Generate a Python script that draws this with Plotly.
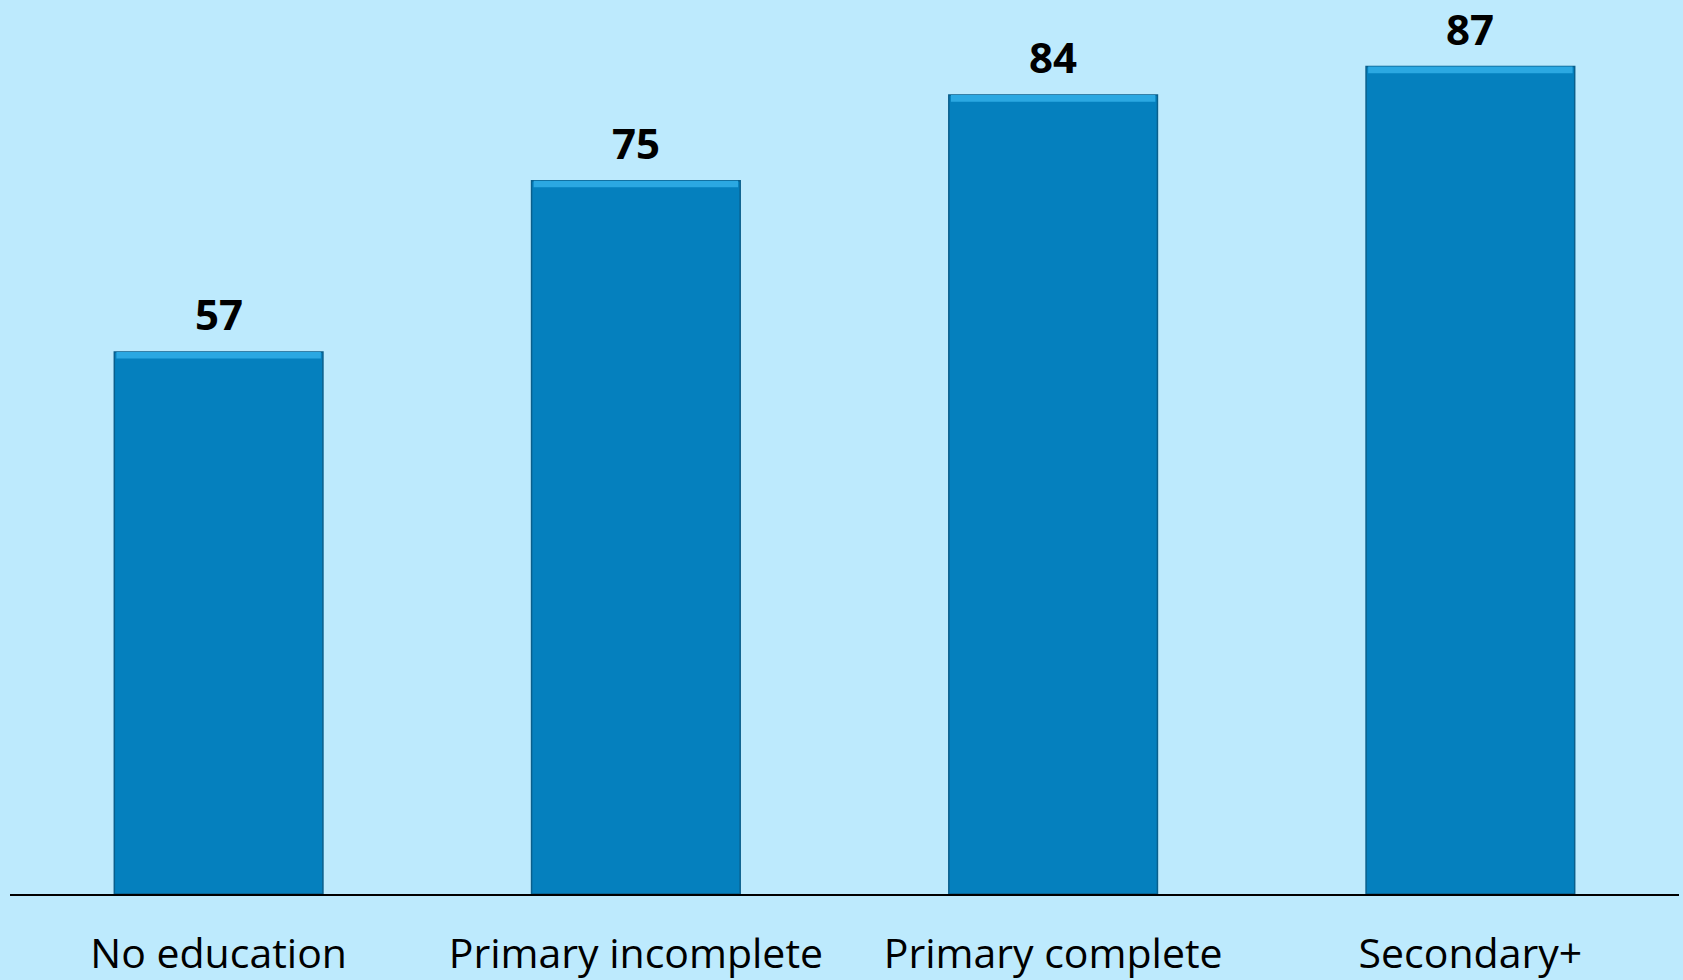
import plotly.graph_objects as go

categories = ["No education", "Primary incomplete", "Primary complete", "Secondary+"]
values = [57, 75, 84, 87]
value_labels = ["57", "75", "84", "87"]

bg = "#BDEAFD"
bar_color = "#0580BE"
bevel = 0.7

fig = go.Figure()
fig.add_trace(go.Bar(
    x=categories, y=values, width=0.5,
    marker=dict(color=bar_color, line=dict(color="#0A5F8C", width=1.5)),
    hoverinfo="skip",
))
fig.add_trace(go.Bar(
    x=categories, y=[bevel] * len(values), base=[v - bevel for v in values], width=0.49,
    marker=dict(color="#2BA8E2", line=dict(width=0)),
    hoverinfo="skip",
))

for c, v, t in zip(categories, values, value_labels):
    fig.add_annotation(x=c, y=v, text="<b>%s</b>" % t, showarrow=False,
                       yanchor="bottom", yshift=9, borderpad=0,
                       font=dict(family="Open Sans", size=42, color="black"))

fig.update_layout(
    width=1683, height=980,
    margin=dict(l=10, r=4, t=0, b=84),
    paper_bgcolor=bg, plot_bgcolor=bg,
    showlegend=False,
    barmode="overlay",
    xaxis=dict(showline=True, linecolor="black", linewidth=2, ticks="",
               tickfont=dict(family="Open Sans", size=41, color="black"),
               ticklabelstandoff=23, range=[-0.5, 3.5]),
    yaxis=dict(visible=False, range=[0, 94], showgrid=False, zeroline=False),
)

fig.write_html("out.html", config={"displayModeBar": False},
               post_script="document.body.style.margin='0';document.body.style.overflow='hidden';")
